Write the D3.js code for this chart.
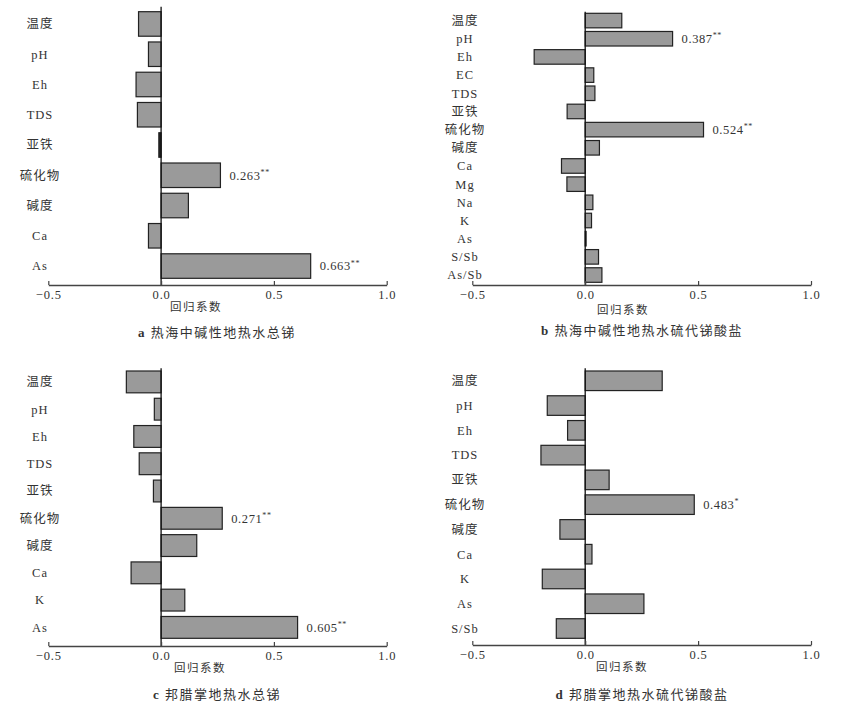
<!DOCTYPE html>
<html>
<head>
<meta charset="utf-8">
<script src="https://cdn.jsdelivr.net/npm/d3@7/dist/d3.min.js"></script>
<style>
  body { margin: 0; background: #fff; }
  svg text { font-family: "Liberation Serif", "Noto Sans CJK SC", serif; fill: #333; }
</style>
</head>
<body>
<svg id="chart" width="856" height="707"></svg>
<script>
// ---------- data ----------
const catsA = ["温度", "pH", "Eh", "TDS", "亚铁", "硫化物", "碱度", "Ca", "As"];
const valsA = [-0.100, -0.056, -0.111, -0.105, -0.010, 0.263, 0.121, -0.056, 0.663];
const sigA  = ["", "", "", "", "", "**", "", "", "**"];

const catsB = ["温度", "pH", "Eh", "EC", "TDS", "亚铁", "硫化物", "碱度", "Ca", "Mg", "Na", "K", "As", "S/Sb", "As/Sb"];
const valsB = [0.162, 0.387, -0.226, 0.038, 0.043, -0.080, 0.524, 0.063, -0.105, -0.081, 0.034, 0.028, 0.004, 0.059, 0.074];
const sigB  = ["", "**", "", "", "", "", "**", "", "", "", "", "", "", "", ""];

const catsC = ["温度", "pH", "Eh", "TDS", "亚铁", "硫化物", "碱度", "Ca", "K", "As"];
const valsC = [-0.154, -0.030, -0.121, -0.097, -0.034, 0.271, 0.158, -0.133, 0.105, 0.605];
const sigC  = ["", "", "", "", "", "**", "", "", "", "**"];

const catsD = ["温度", "pH", "Eh", "TDS", "亚铁", "硫化物", "碱度", "Ca", "K", "As", "S/Sb"];
const valsD = [0.341, -0.168, -0.078, -0.196, 0.106, 0.483, -0.112, 0.030, -0.190, 0.260, -0.128];
const sigD  = ["", "", "", "", "", "*", "", "", "", "", ""];

const xTicks = [-0.5, 0.0, 0.5, 1.0];
const xTitle = "回归系数";
const captions = [
  ["a", "热海中碱性地热水总锑"],
  ["b", "热海中碱性地热水硫代锑酸盐"],
  ["c", "邦腊掌地热水总锑"],
  ["d", "邦腊掌地热水硫代锑酸盐"]
];

// ---------- layout ----------
const panels = [
  { cats: catsA, vals: valsA, sig: sigA, cap: captions[0],
    x0: 48.3, x1: 386.7, barTop: 11.7, barBot: 278.3, pad: 0.19, zeroTop: 6.7, axisY: 285,
    labelX: 40, titleX: 196, titleY: 307, capX: 217, capY: 332 },
  { cats: catsB, vals: valsB, sig: sigB, cap: captions[1],
    x0: 472.3, x1: 811, barTop: 13.3, barBot: 282.3, pad: 0.2, zeroTop: 11.7, axisY: 285,
    labelX: 465, titleX: 623, titleY: 310, capX: 642, capY: 330 },
  { cats: catsC, vals: valsC, sig: sigC, cap: captions[2],
    x0: 48.3, x1: 386.7, barTop: 371, barBot: 638.3, pad: 0.2, zeroTop: 368.3, axisY: 646,
    labelX: 40, titleX: 200, titleY: 668, capX: 217, capY: 694 },
  { cats: catsD, vals: valsD, sig: sigD, cap: captions[3],
    x0: 472.3, x1: 811, barTop: 371, barBot: 638.3, pad: 0.21, zeroTop: 368.3, axisY: 645,
    labelX: 465, titleX: 622, titleY: 667, capX: 642, capY: 694 }
];

const svg = d3.select("#chart");

panels.forEach(p => {
  const g = svg.append("g");
  const x = d3.scaleLinear().domain([-0.5, 1.0]).range([p.x0, p.x1]);
  const y = d3.scaleBand().domain(p.cats).range([p.barTop, p.barBot])
              .paddingInner(p.pad).paddingOuter(0);
  const rows = p.cats.map((c, i) => ({ c, v: p.vals[i], s: p.sig[i] }));

  // bars
  g.selectAll("rect.bar").data(rows)
    .enter().append("rect")
    .attr("class", "bar")
    .attr("x", d => x(Math.min(0, d.v)))
    .attr("y", d => y(d.c))
    .attr("width", d => Math.abs(x(d.v) - x(0)))
    .attr("height", y.bandwidth())
    .attr("fill", d => Math.abs(x(d.v) - x(0)) < 3 ? "#222" : "#9a9a9a")
    .attr("stroke", "#222")
    .attr("stroke-width", 1.2);

  // value labels for significant bars
  const vt = g.selectAll("text.val").data(rows.filter(d => d.s)).enter().append("text")
    .attr("class", "val")
    .attr("x", d => x(d.v) + 9)
    .attr("y", d => y(d.c) + y.bandwidth() / 2)
    .attr("dy", "0.35em")
    .attr("font-size", 12.5)
    .attr("letter-spacing", 0.6);
  vt.append("tspan").text(d => d3.format(".3f")(d.v));
  vt.append("tspan").attr("font-size", 8).attr("dy", "-0.6em").text(d => d.s);

  // category labels
  g.selectAll("text.cat").data(p.cats).enter().append("text")
    .attr("class", "cat")
    .attr("x", p.labelX)
    .attr("y", d => y(d) + y.bandwidth() / 2)
    .attr("dy", "0.35em")
    .attr("text-anchor", "middle")
    .attr("font-size", 12.5)
    .attr("letter-spacing", 1)
    .text(d => d);

  // zero line
  g.append("line")
    .attr("x1", x(0)).attr("x2", x(0))
    .attr("y1", p.zeroTop).attr("y2", p.axisY)
    .attr("stroke", "#111").attr("stroke-width", 1.3);

  // x axis
  const ax = g.append("g").attr("transform", `translate(0,${p.axisY})`)
    .call(d3.axisBottom(x).tickValues(xTicks).tickFormat(d3.format(".1f"))
      .tickSizeInner(-4).tickSizeOuter(0).tickPadding(5));
  ax.select(".domain").attr("stroke", "#444").attr("stroke-width", 1.3);
  ax.selectAll(".tick line").attr("stroke", "#444").attr("stroke-width", 1.2);
  ax.selectAll(".tick text")
    .attr("font-family", "Liberation Serif, serif")
    .attr("font-size", 12.5)
    .attr("letter-spacing", 0.8)
    .attr("fill", "#333");

  // axis title
  g.append("text")
    .attr("x", p.titleX).attr("y", p.titleY)
    .attr("dy", "0.35em")
    .attr("text-anchor", "middle")
    .attr("font-size", 11.5)
    .attr("letter-spacing", 1.5)
    .attr("fill", "#555")
    .text(xTitle);

  // caption
  const cap = g.append("text")
    .attr("x", p.capX).attr("y", p.capY)
    .attr("dy", "0.35em")
    .attr("text-anchor", "middle")
    .attr("font-size", 13)
    .attr("letter-spacing", 1.5)
    .attr("fill", "#222");
  cap.append("tspan").attr("font-weight", "bold").text(p.cap[0] + " ");
  cap.append("tspan").text(p.cap[1]);
});
</script>
</body>
</html>
